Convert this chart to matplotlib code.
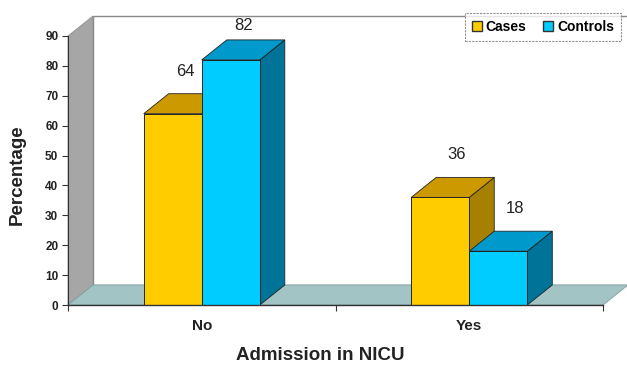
import matplotlib
matplotlib.use("Agg")
import matplotlib.pyplot as plt
from matplotlib.patches import Polygon, Patch

plt.rcParams['font.family'] = ['Liberation Sans', 'DejaVu Sans']

# Chart data
groups = ["No", "Yes"]
cases = [64, 36]
controls = [82, 18]
series_names = ["Cases", "Controls"]

# Colours: front, top, side
cases_col = ["#FFCC00", "#CC9900", "#A68000"]
controls_col = ["#00CCFF", "#0099CC", "#007399"]
floor_col = "#A3C4C4"
wall_col = "#A6A6A6"

W, H = 627, 365
fig = plt.figure(figsize=(W / 100, H / 100), dpi=100)
ax_left, ax_right, ax_bot, ax_top = 68, 603, 305, 36
ax = fig.add_axes([ax_left / W, (H - ax_bot) / H,
                   (ax_right - ax_left) / W, (ax_bot - ax_top) / H])
ax.set_xlim(-0.5, 1.5)
ax.set_ylim(0, 90)

# 3D depth (pixels) converted to data units
depth_x_px, depth_y_px = 25, 20
dx = depth_x_px * 2.0 / (ax_right - ax_left)
dy = depth_y_px * 90.0 / (ax_bot - ax_top)

def poly(pts, fc, ec="none", lw=0.8, z=1):
    p = Polygon(pts, closed=True, facecolor=fc, edgecolor=ec, linewidth=lw,
                clip_on=False, zorder=z)
    ax.add_patch(p)

# back wall, left wall, floor
poly([(-0.5 + dx, dy), (1.5 + dx, dy), (1.5 + dx, 90 + dy), (-0.5 + dx, 90 + dy)],
     "white", ec="#888888", lw=1.0, z=0.5)
poly([(-0.5, 0), (-0.5 + dx, dy), (-0.5 + dx, 90 + dy), (-0.5, 90)],
     wall_col, ec="#909090", lw=0.6, z=0.6)
poly([(-0.5, 0), (1.5, 0), (1.5 + dx, dy), (-0.5 + dx, dy)],
     floor_col, ec="#7f9f9f", lw=0.6, z=0.6)

bw = 0.217

def bar3d(x0, h, cols, z):
    # side face
    poly([(x0 + bw, 0), (x0 + bw + dx, dy), (x0 + bw + dx, h + dy), (x0 + bw, h)],
         cols[2], ec="#222222", lw=0.6, z=z)
    # top face
    poly([(x0, h), (x0 + bw, h), (x0 + bw + dx, h + dy), (x0 + dx, h + dy)],
         cols[1], ec="#222222", lw=0.6, z=z)
    # front face
    ax.bar(x0, h, width=bw, align="edge", color=cols[0], edgecolor="#222222",
           linewidth=0.7, zorder=z + 0.1, clip_on=False)

for i in range(len(groups)):
    bar3d(i - bw, cases[i], cases_col, 2 + i)
    bar3d(i, controls[i], controls_col, 2.5 + i)

# value labels above the top faces
for i in range(len(groups)):
    for x0, v in [(i - bw, cases[i]), (i, controls[i])]:
        ytxt = min(v + dy + 7.5, 93.5)
        ax.text(x0 + bw / 2 + dx / 2 + 0.015 * i, ytxt, str(v), ha="center", va="center",
                fontsize=12, color="#222222", zorder=10, clip_on=False)

# axes styling
for s in ["top", "right"]:
    ax.spines[s].set_visible(False)
ax.spines["left"].set_color("#333333")
ax.spines["bottom"].set_color("#333333")
ax.spines["left"].set_linewidth(0.8)
ax.spines["bottom"].set_linewidth(1.0)
ax.spines["left"].set_zorder(5)
ax.spines["bottom"].set_zorder(5)
ax.patch.set_visible(False)

ax.set_yticks(range(0, 91, 10))
ax.set_yticklabels([str(t) for t in range(0, 91, 10)], fontsize=8.5, fontweight="bold",
                   color="#222222")
ax.tick_params(axis="y", length=4, width=0.8, color="#333333", pad=3)
ax.set_xticks([-0.5, 0.5, 1.5])
ax.set_xticklabels([])
ax.tick_params(axis="x", length=4, width=0.8, color="#333333", direction="out")
for i, g in enumerate(groups):
    ax.text(i, -7.0, g, ha="center", va="center", fontsize=11, fontweight="bold",
            color="#222222")

fig.text(320 / W, 1 - 356 / H, "Admission in NICU", ha="center", va="center",
         fontsize=13.5, fontweight="bold", color="#222222")
fig.text(17 / W, 1 - 175 / H, "Percentage", ha="center", va="center",
         rotation=90, fontsize=13.5, fontweight="bold", color="#222222")

handles = [Patch(facecolor=cases_col[0], edgecolor="#333333"),
           Patch(facecolor=controls_col[0], edgecolor="#333333")]
leg = fig.legend(handles, series_names, loc="upper left", ncol=2,
                 bbox_to_anchor=(465 / W, 1 - 13 / H), borderaxespad=0,
                 frameon=True, fancybox=False,
                 prop={"size": 10, "weight": "bold"}, handlelength=0.7, handleheight=0.7,
                 handletextpad=0.3, columnspacing=1.2, borderpad=0.5)
leg.get_frame().set_edgecolor("#777777")
leg.get_frame().set_linestyle((0, (2, 1)))
leg.get_frame().set_linewidth(0.8)

fig.savefig("out.png", dpi=100)
